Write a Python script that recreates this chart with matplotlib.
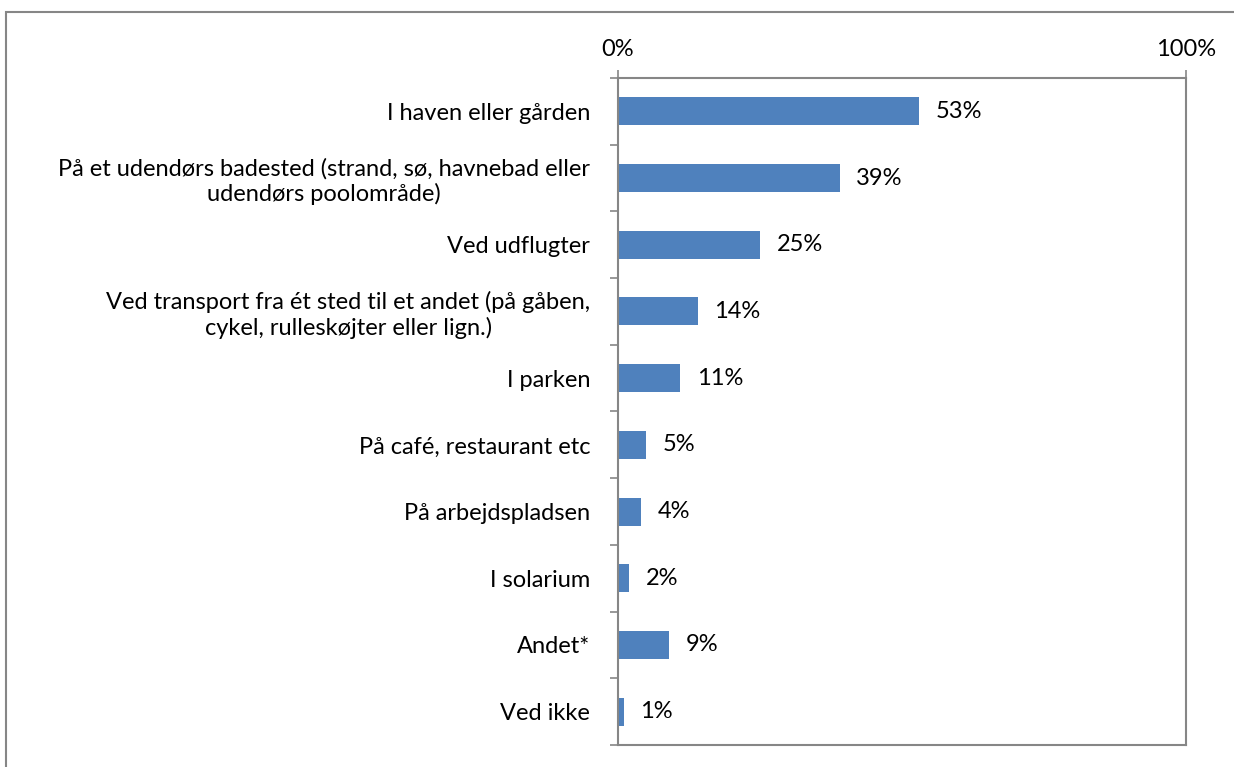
import matplotlib.pyplot as plt
from matplotlib.patches import Rectangle
import numpy as np

categories = [
    "I haven eller gården",
    "På et udendørs badested (strand, sø, havnebad eller\nudendørs poolområde)",
    "Ved udflugter",
    "Ved transport fra ét sted til et andet (på gåben,\ncykel, rulleskøjter eller lign.)",
    "I parken",
    "På café, restaurant etc",
    "På arbejdspladsen",
    "I solarium",
    "Andet*",
    "Ved ikke",
]
values = [53, 39, 25, 14, 11, 5, 4, 2, 9, 1]
x_ticks = [0, 100]
x_tick_labels = ["0%", "100%"]

plt.rcParams["font.family"] = ["Lato", "DejaVu Sans"]
FS = 17

fig = plt.figure(figsize=(12.34, 7.67), dpi=100)

# outer chart frame (runs off the right and bottom edges)
fig.patches.append(Rectangle((6 / 1234, -0.05), 1.2, 1 - 12 / 767 + 0.05,
                             transform=fig.transFigure, fill=False,
                             edgecolor="#868686", linewidth=1.5))

ax = fig.add_axes([618 / 1234, 1 - 745 / 767, 568 / 1234, 667 / 767])

y = np.arange(len(categories))
ax.barh(y, values, height=0.42, color="#4f81bd")
ax.set_xlim(0, 100)
ax.set_ylim(len(categories) - 0.5, -0.5)

for yi, v in zip(y, values):
    ax.annotate(f"{v}%", (v, yi), xytext=(12, 0), textcoords="offset points",
                va="center", ha="left", fontsize=FS, color="#000000")

ax.xaxis.tick_top()
ax.set_xticks(x_ticks)
ax.set_xticklabels(x_tick_labels, fontsize=FS)
ax.tick_params(axis="x", length=6, color="#868686", width=1.2, pad=7)

ax.set_yticks(y)
ax.set_yticklabels(categories, fontsize=FS, multialignment="center",
                   linespacing=1.2)
ax.tick_params(axis="y", length=0, pad=20)
ax.set_yticks(np.arange(len(categories) + 1) - 0.5, minor=True)
ax.tick_params(axis="y", which="minor", length=6, color="#868686", width=1.2)

for side in ["top", "bottom", "left", "right"]:
    ax.spines[side].set_color("#868686")
    ax.spines[side].set_linewidth(1.5)

fig.savefig("out.png", dpi=100)
